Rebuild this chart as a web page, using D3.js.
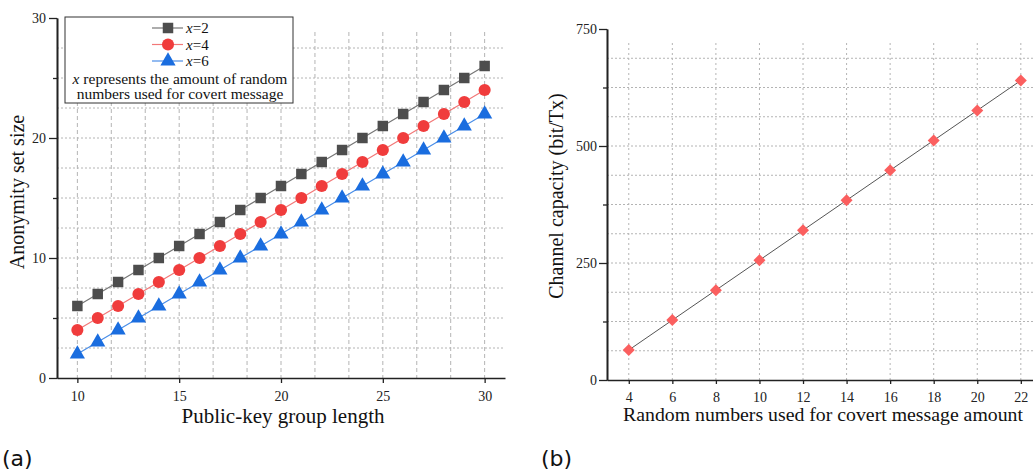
<!DOCTYPE html>
<html>
<head>
<meta charset="utf-8">
<script src="https://cdn.jsdelivr.net/npm/d3@7"></script>
<style>
  body { margin: 0; background: #fff; }
  svg { display: block; }
</style>
</head>
<body>
<svg id="chart" width="1033" height="470"></svg>
<script>
// ---- data (a) ----
const groupLength = [10, 11, 12, 13, 14, 15, 16, 17, 18, 19, 20, 21, 22, 23, 24, 25, 26, 27, 28, 29, 30];
const setX2 = [6, 7, 8, 9, 10, 11, 12, 13, 14, 15, 16, 17, 18, 19, 20, 21, 22, 23, 24, 25, 26];
const setX4 = [4, 5, 6, 7, 8, 9, 10, 11, 12, 13, 14, 15, 16, 17, 18, 19, 20, 21, 22, 23, 24];
const setX6 = [2, 3, 4, 5, 6, 7, 8, 9, 10, 11, 12, 13, 14, 15, 16, 17, 18, 19, 20, 21, 22];
const xTicksA = [10, 15, 20, 25, 30];
const yTicksA = [0, 10, 20, 30];

// ---- data (b) ----
const randomNums = [4, 6, 8, 10, 12, 14, 16, 18, 20, 22];
const capacity = [64, 128, 192, 256, 320, 384, 448, 512, 576, 640];
const yTicksB = [0, 250, 500, 750];

const svg = d3.select("#chart");
const serif = "'Liberation Serif', 'Times New Roman', serif";
const gridColor = "#b4b4b4";

// ================= chart (a) =================
const xA = d3.scaleLinear().domain([9, 31]).range([57, 505]);
const yA = d3.scaleLinear().domain([0, 30]).range([378, 18]);
const gA = svg.append("g");

// grid
const gridXA = d3.range(10, 30.01, 5 / 3);
const gridYA = d3.range(2.5, 30, 2.5);
gA.append("g")
  .selectAll("line").data(gridXA).join("line")
  .attr("x1", d => xA(d)).attr("x2", d => xA(d))
  .attr("y1", 32).attr("y2", yA(0))
  .attr("stroke", gridColor).attr("stroke-width", 1).attr("stroke-dasharray", "4,3");
gA.append("g")
  .selectAll("line").data(gridYA).join("line")
  .attr("x1", xA(9)).attr("x2", xA(31))
  .attr("y1", d => yA(d)).attr("y2", d => yA(d))
  .attr("stroke", gridColor).attr("stroke-width", 1).attr("stroke-dasharray", "2,2");

// axes
gA.append("g").attr("transform", `translate(0,${yA(0)})`)
  .call(d3.axisBottom(xA).tickValues(xTicksA).tickSize(5).tickSizeOuter(0).tickPadding(8));
gA.append("g").attr("transform", `translate(${xA(9)},0)`)
  .call(d3.axisLeft(yA).tickValues(yTicksA).tickSize(8).tickSizeOuter(0).tickPadding(3));
gA.append("g").attr("transform", `translate(${xA(9)},0)`)
  .call(d3.axisLeft(yA).tickValues([5, 15, 25]).tickSize(4).tickSizeOuter(0).tickFormat(""));
gA.selectAll(".domain").attr("stroke", "#222").attr("stroke-width", 1.6);
gA.selectAll(".tick line").attr("stroke", "#222").attr("stroke-width", 1.3);
gA.selectAll(".tick text").attr("font-family", serif).attr("font-size", 14).attr("fill", "#222");

// series
const seriesA = [
  { vals: setX2, line: "#777", fill: "#4d4d4d", sym: d3.symbolSquare, size: 110, label: "2" },
  { vals: setX4, line: "#f27878", fill: "#f03c3c", sym: d3.symbolCircle, size: 115, label: "4" },
  { vals: setX6, line: "#4a8ee8", fill: "#1a6ddf", sym: d3.symbolTriangle, size: 100, label: "6" }
];
const lineA = d3.line().x(d => xA(d[0])).y(d => yA(d[1]));
seriesA.forEach(s => {
  const pts = groupLength.map((g, i) => [g, s.vals[i]]);
  gA.append("path").attr("d", lineA(pts)).attr("fill", "none")
    .attr("stroke", s.line).attr("stroke-width", 1.2);
  gA.append("g").selectAll("path").data(pts).join("path")
    .attr("transform", d => `translate(${xA(d[0])},${yA(d[1])})`)
    .attr("d", d3.symbol().type(s.sym).size(s.size))
    .attr("fill", s.fill);
});

// legend
const lg = gA.append("g");
lg.append("rect").attr("x", 65).attr("y", 17).attr("width", 228).attr("height", 86)
  .attr("fill", "#fff").attr("stroke", "#333").attr("stroke-width", 1);
seriesA.forEach((s, i) => {
  const y = 28 + i * 16.5;
  lg.append("line").attr("x1", 152).attr("x2", 183).attr("y1", y).attr("y2", y)
    .attr("stroke", s.line).attr("stroke-width", 1.2);
  lg.append("path").attr("transform", `translate(168,${y})`)
    .attr("d", d3.symbol().type(s.sym).size(s.size)).attr("fill", s.fill);
  const t = lg.append("text").attr("x", 186).attr("y", y + 5)
    .attr("font-family", serif).attr("font-size", 15).attr("fill", "#111");
  t.append("tspan").attr("font-style", "italic").text("x");
  t.append("tspan").text("=" + s.label);
});
const note = lg.append("text").attr("x", 180).attr("y", 84).attr("text-anchor", "middle")
  .attr("font-family", serif).attr("font-size", 15.5).attr("fill", "#111");
note.append("tspan").attr("font-style", "italic").text("x");
note.append("tspan").text(" represents the amount of random");
lg.append("text").attr("x", 180).attr("y", 99).attr("text-anchor", "middle")
  .attr("font-family", serif).attr("font-size", 15.5).attr("fill", "#111")
  .text("numbers used for covert message");

// titles
gA.append("text").attr("x", 283).attr("y", 423).attr("text-anchor", "middle")
  .attr("font-family", serif).attr("font-size", 21).attr("fill", "#111")
  .text("Public-key group length");
gA.append("text").attr("transform", "translate(24,192) rotate(-90)").attr("text-anchor", "middle")
  .attr("font-family", serif).attr("font-size", 20).attr("fill", "#111")
  .text("Anonymity set size");
svg.append("text").attr("x", 2).attr("y", 466)
  .attr("font-family", "'DejaVu Sans', sans-serif").attr("font-size", 22).attr("fill", "#111")
  .text("(a)");

// ================= chart (b) =================
const xB = d3.scaleLinear().domain([3, 23]).range([607, 1042.6]);
const yB = d3.scaleLinear().domain([0, 750]).range([380, 29]);
const gB = svg.append("g");

const gridYB = d3.range(62.5, 750, 62.5);
gB.append("g")
  .selectAll("line").data(randomNums).join("line")
  .attr("x1", d => xB(d)).attr("x2", d => xB(d))
  .attr("y1", 43).attr("y2", yB(0))
  .attr("stroke", gridColor).attr("stroke-width", 1).attr("stroke-dasharray", "2,3");
gB.append("g")
  .selectAll("line").data(gridYB).join("line")
  .attr("x1", xB(3)).attr("x2", xB(23))
  .attr("y1", d => yB(d)).attr("y2", d => yB(d))
  .attr("stroke", gridColor).attr("stroke-width", 1).attr("stroke-dasharray", "2,2");

gB.append("g").attr("transform", `translate(0,${yB(0)})`)
  .call(d3.axisBottom(xB).tickValues(randomNums).tickSize(4).tickSizeOuter(0).tickPadding(8));
gB.append("g").attr("transform", `translate(${xB(3)},0)`)
  .call(d3.axisLeft(yB).tickValues(yTicksB).tickSize(8).tickSizeOuter(0).tickPadding(2));
gB.append("g").attr("transform", `translate(${xB(3)},0)`)
  .call(d3.axisLeft(yB).tickValues([125, 375, 625]).tickSize(4).tickSizeOuter(0).tickFormat(""));
gB.selectAll(".domain").attr("stroke", "#222").attr("stroke-width", 1.6);
gB.selectAll(".tick line").attr("stroke", "#222").attr("stroke-width", 1.3);
gB.selectAll(".tick text").attr("font-family", serif).attr("font-size", 14).attr("fill", "#222");

const ptsB = randomNums.map((r, i) => [r, capacity[i]]);
gB.append("path").attr("d", d3.line().x(d => xB(d[0])).y(d => yB(d[1]))(ptsB))
  .attr("fill", "none").attr("stroke", "#555").attr("stroke-width", 1);
gB.append("g").selectAll("path").data(ptsB).join("path")
  .attr("transform", d => `translate(${xB(d[0])},${yB(d[1])}) rotate(45)`)
  .attr("d", d3.symbol().type(d3.symbolSquare).size(72))
  .attr("fill", "#fb5f5f");

gB.append("text").attr("x", 823).attr("y", 421).attr("text-anchor", "middle")
  .attr("font-family", serif).attr("font-size", 19.8).attr("fill", "#111")
  .text("Random numbers used for covert message amount");
gB.append("text").attr("transform", "translate(563,196) rotate(-90)").attr("text-anchor", "middle")
  .attr("font-family", serif).attr("font-size", 20).attr("fill", "#111")
  .text("Channel capacity (bit/Tx)");
svg.append("text").attr("x", 541).attr("y", 466)
  .attr("font-family", "'DejaVu Sans', sans-serif").attr("font-size", 22).attr("fill", "#111")
  .text("(b)");
</script>
</body>
</html>
